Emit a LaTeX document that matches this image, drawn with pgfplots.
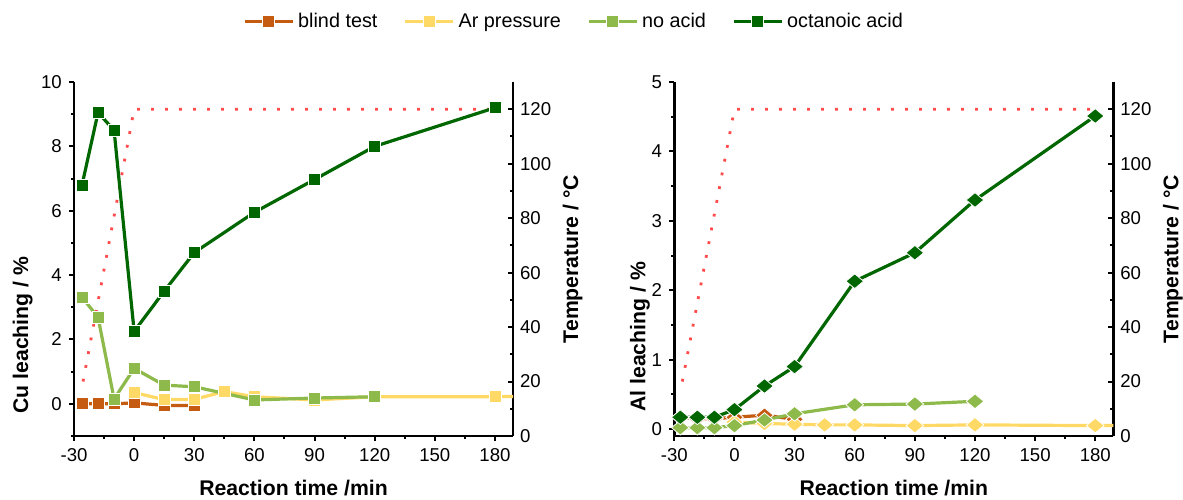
\documentclass[border=0pt]{standalone}
\usepackage{pgfplots}
\pgfplotsset{compat=1.18}
\usepackage{fontspec}
\setmainfont{Liberation Sans}
\definecolor{cblind}{HTML}{C55A11}
\definecolor{car}{HTML}{FFD966}
\definecolor{cno}{HTML}{8DBA4A}
\definecolor{coct}{HTML}{006600}
\definecolor{ctemp}{HTML}{FF4B4B}
\pgfplotsset{
  base/.style={
    scale only axis, width=219.5pt, height=177pt,
    xmin=-30, xmax=189,
    /pgf/number format/assume math mode=true,
    ticklabel style={font=\fontsize{9.3}{11}\selectfont},
    label style={font=\bfseries\fontsize{10.6}{12}\selectfont},
    axis line style={line width=1.3pt},
    major tick length=2.6pt, minor tick length=1.6pt,
    every tick/.append style={black, line width=1pt},
    every minor tick/.append style={black, line width=1pt},
  },
  dat/.style={line width=1.6pt, mark=square*, mark size=3pt,
    mark options={solid, draw=white, line width=0.4pt}},
  dia/.style={line width=1.6pt, mark=square*, mark size=2.6pt,
    mark options={solid, draw=white, line width=0.4pt, xscale=1.2, rotate=45}},
  temp/.style={ctemp, line width=1.4pt, dash pattern=on 1.4pt off 5.6pt, no marks},
  dataxis/.style={base, axis x line*=bottom, axis y line*=left, tick align=outside,
    xtick={-30,0,...,180}, minor xtick={-15,15,...,165},
    xlabel={Reaction time /min},
    xlabel style={at={(axis description cs:0.5,-0.147)}, anchor=center},
  },
  tempaxis/.style={base, axis x line=none, axis y line*=right, tick align=inside,
    ymin=0, ymax=130, ytick={0,20,...,120}, minor ytick={10,30,...,110},
    ylabel={Temperature / °C},
    ylabel style={at={(axis description cs:1.136,0.5)}, anchor=center},
  },
}
\begin{document}
\begin{tikzpicture}
\useasboundingbox (-37pt,-31.5pt) rectangle (554.5pt,218pt);
% ---------- left panel ----------
\begin{axis}[tempaxis]
\addplot[temp] coordinates {(-25.5,20) (0,120) (180,120)};
\end{axis}
\begin{axis}[dataxis,
  ymin=-1, ymax=10, ytick={0,2,...,10}, minor ytick={-1,1,...,9},
  ylabel={Cu leaching / \%},
  ylabel style={at={(axis description cs:-0.117,0.285)}, anchor=center},
  legend style={at={(axis description cs:1.141,1.17)}, anchor=center, draw=none, fill=none,
    legend columns=4, font=\fontsize{9.9}{12}\selectfont,
    /tikz/every even column/.append style={column sep=11pt}},
  legend image code/.code={\draw[mark repeat=2,mark phase=2,#1] plot coordinates {(0pt,0pt)(12pt,0pt)(24pt,0pt)};},
]
\addplot[dat, cblind] coordinates {(-26,0.0)(-18,0.0)(-10,0.0)(0,0.03)(15,-0.05)(30,-0.05)};
\addlegendentry{blind test}
\addplot[dat, car] coordinates {(0,0.35)(15,0.13)(30,0.14)(45,0.38)(60,0.22)(90,0.12)(120,0.22)(180,0.22)(200,0.24)};
\addlegendentry{Ar pressure}
\addplot[dat, cno] coordinates {(-26,3.31)(-18,2.69)(-10,0.15)(0,1.1)(15,0.58)(30,0.53)(60,0.12)(90,0.18)(120,0.22)};
\addlegendentry{no acid}
\addplot[dat, coct] coordinates {(-26,6.8)(-18,9.05)(-10,8.5)(0,2.25)(15,3.5)(30,4.7)(60,5.95)(90,6.97)(120,8.0)(180,9.2)};
\addlegendentry{octanoic acid}
\end{axis}
% ---------- right panel ----------
\begin{axis}[tempaxis, at={(300.15pt,0pt)}]
\addplot[temp] coordinates {(-26,20) (0,120) (180,120)};
\end{axis}
\begin{axis}[dataxis, at={(300.15pt,0pt)},
  ymin=-0.1, ymax=5, ytick={0,1,...,5}, minor ytick={0.5,1.5,...,4.5},
  ylabel={Al leaching / \%},
  ylabel style={at={(axis description cs:-0.078,0.28)}, anchor=center},
]
\addplot[dia, cblind] coordinates {(-27,0.17)(-18.5,0.15)(-10,0.15)(0,0.17)(15,0.2)(30,0.14)};
\addplot[dia, car] coordinates {(0,0.1)(15,0.08)(30,0.07)(45,0.06)(60,0.06)(90,0.05)(120,0.06)(180,0.05)(200,0.05)};
\addplot[dia, cno] coordinates {(-27,0.02)(-18.5,0.02)(-10,0.02)(0,0.05)(15,0.13)(30,0.22)(60,0.35)(90,0.36)(120,0.4)};
\addplot[dia, coct] coordinates {(-27,0.17)(-18.5,0.17)(-10,0.17)(0,0.28)(15,0.62)(30,0.9)(60,2.13)(90,2.54)(120,3.3)(180,4.51)};
\end{axis}
\end{tikzpicture}
\end{document}
